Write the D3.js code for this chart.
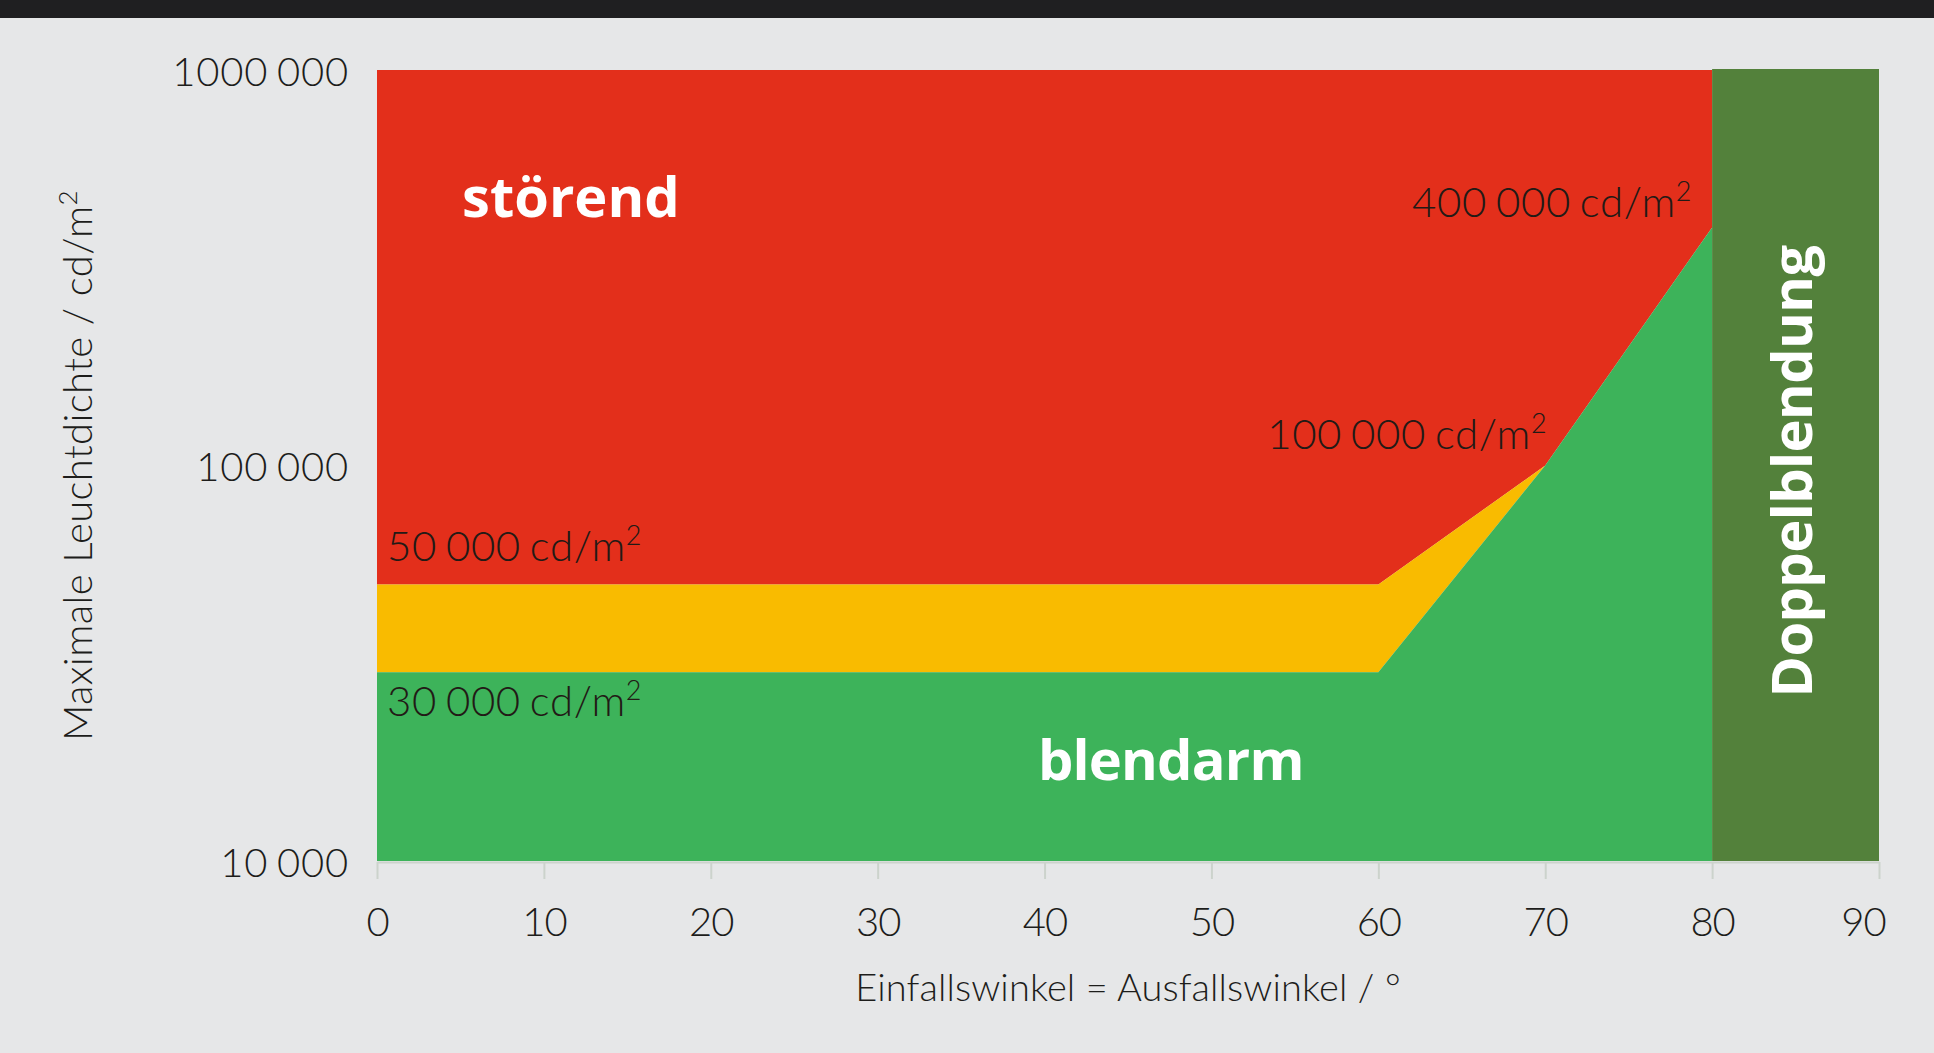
<!DOCTYPE html>
<html>
<head>
<meta charset="utf-8">
<script src="https://cdn.jsdelivr.net/npm/d3@7"></script>
<style>
  html, body { margin: 0; padding: 0; background: #e6e7e8; }
  svg { display: block; }
  .light { font-family: Lato, "Open Sans", sans-serif; font-weight: 300; }
  .bold { font-family: "Open Sans", Lato, sans-serif; font-weight: 700; }
</style>
</head>
<body>
<div id="chartDiv"></div>
<script>
// angles (x) where the limit lines bend
var angles = [0, 60, 70, 80];
// upper limit (red above), lower limit (green below)
var upperLimit = [50000, 50000, 100000, 400000];
var lowerLimit = [30000, 30000, 100000, 400000];
// double glare zone
var doubleGlare = [80, 90];

var xTicks = [0, 10, 20, 30, 40, 50, 60, 70, 80, 90];
var yTicks = [10000, 100000, 1000000];
var yTickLabels = ["10 000", "100 000", "1000 000"];

var colors = {
  red: "#e32f1b",
  yellow: "#f9bb00",
  green: "#3db35a",
  dark: "#53813b"
};

var W = 1934, H = 1053;
var margin = {left: 377, top: 70, right: 55, bottom: 192},
    width = W - margin.left - margin.right,
    height = H - margin.top - margin.bottom;

var svg = d3.select("#chartDiv").append("svg")
  .attr("width", W)
  .attr("height", H);

svg.append("rect")
  .attr("width", W).attr("height", H)
  .attr("fill", "#e6e7e8");
// dark strip at the top
svg.append("rect")
  .attr("width", W).attr("height", 18)
  .attr("fill", "#1f1f21");

var g = svg.append("g")
  .attr("transform", "translate(" + margin.left + "," + margin.top + ")");

var x = d3.scaleLinear().domain([0, 90]).range([0, width]);
var y = d3.scaleLog().domain([10000, 1000000]).range([height, 0]);

var pts = angles.map(function(a, i) {
  return {a: a, up: upperLimit[i], low: lowerLimit[i]};
});

//////////////////// areas ////////////////////
var redArea = d3.area()
  .x(function(d) { return x(d.a); })
  .y0(function(d) { return y(d.up); })
  .y1(function() { return y(1000000); });

var yellowArea = d3.area()
  .x(function(d) { return x(d.a); })
  .y0(function(d) { return y(d.low); })
  .y1(function(d) { return y(d.up); });

var greenArea = d3.area()
  .x(function(d) { return x(d.a); })
  .y0(function() { return y(10000); })
  .y1(function(d) { return y(d.low); });

g.append("path").datum(pts).attr("d", redArea).attr("fill", colors.red);
g.append("path").datum(pts).attr("d", yellowArea).attr("fill", colors.yellow);
g.append("path").datum(pts).attr("d", greenArea).attr("fill", colors.green);

g.append("rect")
  .attr("x", x(doubleGlare[0]))
  .attr("y", y(1000000) - 1)
  .attr("width", x(doubleGlare[1]) - x(doubleGlare[0]))
  .attr("height", y(10000) - y(1000000) + 1)
  .attr("fill", colors.dark);

//////////////////// axes ////////////////////
var xAxis = g.append("g")
  .attr("transform", "translate(0," + (height + 1) + ")")
  .call(d3.axisBottom(x).tickValues(xTicks).tickSize(17).tickPadding(29).tickSizeOuter(0));
xAxis.select(".domain").attr("stroke", "#ccd3cc").attr("stroke-width", 2);
xAxis.selectAll(".tick line").attr("stroke", "#ccd3cc").attr("stroke-width", 2);
xAxis.selectAll("text")
  .attr("class", "light")
  .style("font-size", "40px")
  .attr("fill", "#1d1d1b")
  .style("letter-spacing", "-1px");
// last label pulled in so it stays inside the page edge
xAxis.selectAll(".tick text").filter(function(d) { return d === 90; })
  .attr("dx", -16);

var yAxis = g.append("g")
  .call(d3.axisLeft(y).tickValues(yTicks)
    .tickFormat(function(d, i) { return yTickLabels[i]; })
    .tickSize(0).tickPadding(28));
yAxis.select(".domain").remove();
yAxis.selectAll("text")
  .attr("class", "light")
  .attr("dy", "0.38em")
  .style("font-size", "40px")
  .attr("fill", "#1d1d1b")
  .style("letter-spacing", "0.8px")
  .style("word-spacing", "-3px");

// axis titles
svg.append("text")
  .attr("class", "light")
  .attr("x", margin.left + x(45))
  .attr("y", 1001)
  .attr("text-anchor", "middle")
  .style("font-size", "38px")
  .style("letter-spacing", "0.1px")
  .attr("fill", "#1d1d1b")
  .text("Einfallswinkel = Ausfallswinkel / °");

var yTitle = svg.append("text")
  .attr("class", "light")
  .attr("transform", "translate(92," + (margin.top + height / 2) + ") rotate(-90)")
  .attr("text-anchor", "middle")
  .style("font-size", "40px")
  .style("letter-spacing", "0.4px")
  .attr("fill", "#1d1d1b");
yTitle.append("tspan").text("Maximale Leuchtdichte / cd/m");
yTitle.append("tspan").attr("dy", -15).style("font-size", "26px").text("2");

//////////////////// labels ////////////////////
function valueLabel(num, px, py, anchor) {
  var t = g.append("text")
    .attr("class", "light")
    .attr("x", px).attr("y", py)
    .attr("text-anchor", anchor)
    .style("font-size", "42px")
    .style("letter-spacing", "0.6px")
    .style("word-spacing", "-3px")
    .attr("fill", "#221a16");
  t.append("tspan").text(num + " cd/m");
  t.append("tspan").attr("dy", -16).style("font-size", "27px").text("2");
}
valueLabel("50 000", x(0) + 10, y(upperLimit[0]) - 24, "start");
valueLabel("30 000", x(0) + 10, y(lowerLimit[0]) + 44, "start");
valueLabel("100 000", x(70) + 2, y(upperLimit[2]) - 17, "end");
valueLabel("400 000", x(80) - 20, y(upperLimit[3]) - 10, "end");

g.append("text")
  .attr("class", "bold")
  .attr("x", x(5.1)).attr("y", y(1000000) + 147)
  .style("font-size", "56px")
  .attr("fill", "#fff")
  .text("störend");

g.append("text")
  .attr("class", "bold")
  .attr("x", x(39.6)).attr("y", y(10000) - 81)
  .style("font-size", "56px")
  .style("letter-spacing", "-0.8px")
  .attr("fill", "#fff")
  .text("blendarm");

g.append("text")
  .attr("class", "bold")
  .attr("transform", "translate(" + (x(85) + 16) + "," + (y(100000) + 6) + ") rotate(-90)")
  .attr("text-anchor", "middle")
  .style("font-size", "56px")
  .style("letter-spacing", "-0.6px")
  .attr("fill", "#fff")
  .text("Doppelblendung");
</script>
</body>
</html>
